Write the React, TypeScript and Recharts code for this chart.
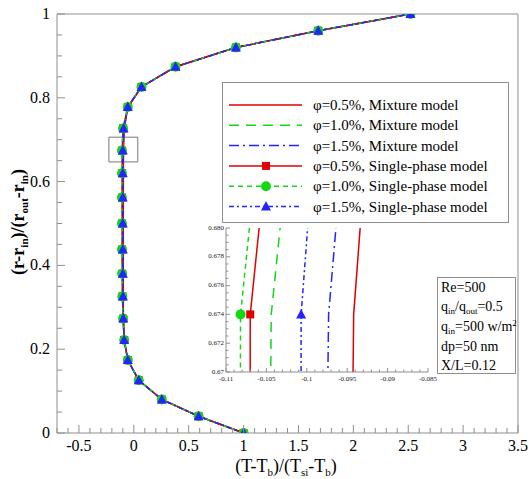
import { LineChart, Line, XAxis, YAxis, ReferenceLine, ReferenceArea } from 'recharts'

// dimensionless radial position (r-rin)/(rout-rin), shared by every series
const radialPos = [0, 0.04, 0.08, 0.126, 0.174, 0.222, 0.273, 0.326, 0.38, 0.438, 0.5, 0.562, 0.62, 0.674, 0.727, 0.778, 0.826, 0.874, 0.92, 0.96, 1]

// dimensionless temperature (T-Tb)/(Tsi-Tb)
const mix05 = [1.0, 0.59, 0.255, 0.045, -0.055, -0.088, -0.095, -0.096, -0.096, -0.096, -0.096, -0.0955, -0.0952, -0.0942, -0.0871, -0.055, 0.07, 0.38, 0.93, 1.68, 2.52]
const mix10 = [1.0, 0.59, 0.255, 0.045, -0.055, -0.088, -0.097, -0.103, -0.104, -0.105, -0.105, -0.1054, -0.1052, -0.1044, -0.0947, -0.055, 0.07, 0.38, 0.93, 1.68, 2.52]
const mix15 = [1.0, 0.59, 0.255, 0.045, -0.055, -0.088, -0.096, -0.098, -0.098, -0.099, -0.099, -0.0988, -0.0985, -0.0973, -0.0893, -0.055, 0.07, 0.38, 0.93, 1.68, 2.52]
const sp05 = [1.0, 0.59, 0.255, 0.045, -0.055, -0.088, -0.097, -0.104, -0.106, -0.107, -0.107, -0.1072, -0.1071, -0.107, -0.0973, -0.055, 0.07, 0.38, 0.93, 1.68, 2.52]
const sp10 = [1.0, 0.59, 0.255, 0.045, -0.055, -0.088, -0.098, -0.105, -0.107, -0.108, -0.1085, -0.1085, -0.1084, -0.1082, -0.0985, -0.055, 0.07, 0.38, 0.93, 1.68, 2.52]
const sp15 = [1.0, 0.59, 0.255, 0.045, -0.055, -0.088, -0.096, -0.099, -0.1, -0.1005, -0.1008, -0.1008, -0.1008, -0.1007, -0.0936, -0.055, 0.07, 0.38, 0.93, 1.68, 2.52]

const xMajor = [-0.5, 0, 0.5, 1, 1.5, 2, 2.5, 3, 3.5]
const xMajorLabels = ['-0.5', '0', '0.5', '1', '1.5', '2', '2.5', '3', '3.5']
const yMajor = [0, 0.2, 0.4, 0.6, 0.8, 1]
const yMajorLabels = ['0', '0.2', '0.4', '0.6', '0.8', '1']

const insetXMajor = [-0.11, -0.105, -0.1, -0.095, -0.09, -0.085]
const insetXLabels = ['-0.11', '-0.105', '-0.1', '-0.095', '-0.09', '-0.085']
const insetYMajor = [0.67, 0.672, 0.674, 0.676, 0.678, 0.68]
const insetYLabels = ['0.67', '0.672', '0.674', '0.676', '0.678', '0.680']

const legendLabels = [
  'φ=0.5%, Mixture model',
  'φ=1.0%, Mixture model',
  'φ=1.5%, Mixture model',
  'φ=0.5%, Single-phase model',
  'φ=1.0%, Single-phase model',
  'φ=1.5%, Single-phase model',
]

const RED = '#e00000'
const GREEN = '#14d814'
const BLUE = '#2424ff'
const AXIS = '#8f8f8f'
const SERIF = '"Liberation Serif", "Times New Roman", serif'

const pts = (xs: number[]) => xs.map((x, i) => ({ x, y: radialPos[i] }))

const steps = (a: number, b: number, s: number) => {
  const out: number[] = []
  const n = Math.round((b - a) / s)
  for (let i = 0; i <= n; i++) out.push(+(a + i * s).toFixed(6))
  return out
}

const labelFor = (v: number, majors: number[], labels: string[]) => {
  const i = majors.findIndex((m) => Math.abs(m - v) < 1e-7)
  return i >= 0 ? labels[i] : null
}

const square = (color: string) => (p: any) => (
  <rect key={`s${p.index}`} x={p.cx - 4} y={p.cy - 4} width={8} height={8} fill={color} />
)
const circle = (color: string) => (p: any) => (
  <circle key={`c${p.index}`} cx={p.cx} cy={p.cy} r={5} fill={color} />
)
const triangle = (color: string) => (p: any) => (
  <polygon
    key={`t${p.index}`}
    points={`${p.cx},${p.cy - 5.5} ${p.cx - 5},${p.cy + 4} ${p.cx + 5},${p.cy + 4}`}
    fill={color}
  />
)

const series = [
  { xs: mix05, color: RED, dash: undefined, dot: false as any },
  { xs: mix10, color: GREEN, dash: '10 7', dot: false as any },
  { xs: mix15, color: BLUE, dash: '10 4 2 4', dot: false as any },
  { xs: sp05, color: RED, dash: undefined, dot: square(RED) },
  { xs: sp10, color: GREEN, dash: '5 4', dot: circle(GREEN) },
  { xs: sp15, color: BLUE, dash: '5 3 2 3', dot: triangle(BLUE) },
]

function MainXTick({ x, y, payload }: any) {
  const lab = labelFor(payload.value, xMajor, xMajorLabels)
  return (
    <g>
      <line x1={x} x2={x} y1={y} y2={y - (lab ? 8 : 5)} stroke={AXIS} />
      {lab && (
        <text x={x} y={y + 18} textAnchor="middle" fontSize={16} fontFamily={SERIF} fill="#000">
          {lab}
        </text>
      )}
    </g>
  )
}

function MainYTick({ x, y, payload }: any) {
  const lab = labelFor(payload.value, yMajor, yMajorLabels)
  return (
    <g>
      <line x1={x} x2={x + (lab ? 8 : 5)} y1={y} y2={y} stroke={AXIS} />
      {lab && (
        <text x={x - 7} y={y + 5} textAnchor="end" fontSize={16} fontFamily={SERIF} fill="#000">
          {lab}
        </text>
      )}
    </g>
  )
}

function InsetXTick({ x, y, payload }: any) {
  const lab = labelFor(payload.value, insetXMajor, insetXLabels)
  return (
    <g>
      <line x1={x} x2={x} y1={y} y2={y - (lab ? 4 : 2.5)} stroke={AXIS} />
      {lab && (
        <text x={x} y={y + 9} textAnchor="middle" fontSize={7} fontFamily={SERIF} fill="#222">
          {lab}
        </text>
      )}
    </g>
  )
}

function InsetYTick({ x, y, payload }: any) {
  const lab = labelFor(payload.value, insetYMajor, insetYLabels)
  return (
    <g>
      <line x1={x} x2={x + (lab ? 4 : 2.5)} y1={y} y2={y} stroke={AXIS} />
      {lab && (
        <text x={x - 2} y={y + 1.5} textAnchor="end" fontSize={7} fontFamily={SERIF} fill="#222">
          {lab}
        </text>
      )}
    </g>
  )
}

function Lines({ width }: { width: number }) {
  return (
    <>
      {series.map((s, i) => (
        <Line
          key={i}
          data={pts(s.xs)}
          dataKey="y"
          type="linear"
          stroke={s.color}
          strokeWidth={width}
          strokeDasharray={s.dash}
          dot={s.dot}
          activeDot={false}
          isAnimationActive={false}
        />
      ))}
    </>
  )
}

function LegendSample({ i, y }: { i: number; y: number }) {
  const s = series[i]
  const x1 = 229
  const x2 = 302
  const cx = 266
  return (
    <g>
      <line x1={x1} x2={x2} y1={y} y2={y} stroke={s.color} strokeWidth={1.5} strokeDasharray={s.dash} />
      {i === 3 && <rect x={cx - 4} y={y - 4} width={8} height={8} fill={RED} />}
      {i === 4 && <circle cx={cx} cy={y} r={5} fill={GREEN} />}
      {i === 5 && <polygon points={`${cx},${y - 5.5} ${cx - 5},${y + 4} ${cx + 5},${y + 4}`} fill={BLUE} />}
    </g>
  )
}

export default function App() {
  const legendRows = [105, 125.3, 145.6, 165.9, 186.2, 206.5]
  const sub = { fontSize: 11 }
  return (
    <div style={{ position: 'absolute', left: 0, top: 0, width: 529, height: 479, background: '#fff' }}>
      <LineChart width={529} height={479} margin={{ top: 14, right: 11, bottom: 0, left: 0 }}>
        <XAxis
          type="number"
          dataKey="x"
          domain={[-0.7, 3.5]}
          ticks={steps(-0.7, 3.5, 0.1)}
          interval={0}
          tick={(p: any) => <MainXTick {...p} />}
          tickLine={false}
          tickSize={0}
          tickMargin={0}
          height={46}
          axisLine={{ stroke: AXIS }}
          allowDataOverflow
        />
        <YAxis
          type="number"
          dataKey="y"
          domain={[0, 1]}
          ticks={steps(0, 1, 0.05)}
          interval={0}
          tick={(p: any) => <MainYTick {...p} />}
          tickLine={false}
          tickSize={0}
          tickMargin={0}
          width={57}
          axisLine={{ stroke: AXIS }}
          allowDataOverflow
        />
        <ReferenceLine y={1} stroke={AXIS} />
        <ReferenceLine x={3.5} stroke={AXIS} />
        <ReferenceArea x1={-0.227} x2={0.036} y1={0.647} y2={0.706} fill="none" stroke="#777" strokeWidth={1} />
        {Lines({ width: 1.5 })}
      </LineChart>

      <div style={{ position: 'absolute', left: 196, top: 222 }}>
        <LineChart width={244} height={170} margin={{ top: 6, right: 12, bottom: 0, left: 0 }}>
          <XAxis
            type="number"
            dataKey="x"
            domain={[-0.11, -0.085]}
            ticks={steps(-0.11, -0.085, 0.001)}
            interval={0}
            tick={(p: any) => <InsetXTick {...p} />}
            tickLine={false}
            tickSize={0}
            tickMargin={0}
            height={20}
            axisLine={{ stroke: AXIS }}
            allowDataOverflow
          />
          <YAxis
            type="number"
            dataKey="y"
            domain={[0.67, 0.68]}
            ticks={steps(0.67, 0.68, 0.0005)}
            interval={0}
            tick={(p: any) => <InsetYTick {...p} />}
            tickLine={false}
            tickSize={0}
            tickMargin={0}
            width={30}
            axisLine={{ stroke: AXIS }}
            allowDataOverflow
          />
          {Lines({ width: 1.5 })}
        </LineChart>
      </div>

      <svg
        width={529}
        height={479}
        style={{ position: 'absolute', left: 0, top: 0, pointerEvents: 'none' }}
        fontFamily={SERIF}
      >
        <text transform="translate(24,222) rotate(-90)" textAnchor="middle" fontSize={18} fontWeight="bold" fill="#000">
          (r-r<tspan dy={4} {...sub}>in</tspan>
          <tspan dy={-4}>)/(r</tspan>
          <tspan dy={4} {...sub}>out</tspan>
          <tspan dy={-4}>-r</tspan>
          <tspan dy={4} {...sub}>in</tspan>
          <tspan dy={-4}>)</tspan>
        </text>
        <text x={286} y={472} textAnchor="middle" fontSize={18} fill="#000">
          (T-T<tspan dy={4} {...sub}>b</tspan>
          <tspan dy={-4}>)/(T</tspan>
          <tspan dy={4} {...sub}>si</tspan>
          <tspan dy={-4}>-T</tspan>
          <tspan dy={4} {...sub}>b</tspan>
          <tspan dy={-4}>)</tspan>
        </text>

        <rect x={222.5} y={82.5} width={286} height={140} fill="#fff" stroke={AXIS} />
        {legendLabels.map((t, i) => (
          <g key={t}>
            <LegendSample i={i} y={legendRows[i]} />
            <text x={313} y={legendRows[i] + 5} fontSize={15} fill="#000">
              {t}
            </text>
          </g>
        ))}

        <rect x={437.5} y={277.5} width={78} height={96} fill="#fff" stroke={AXIS} />
        <g fontSize={14} fill="#000">
          <text x={441} y={292}>Re=500</text>
          <text x={441} y={311}>
            q<tspan dy={3} fontSize={9}>in</tspan>
            <tspan dy={-3}>/q</tspan>
            <tspan dy={3} fontSize={9}>out</tspan>
            <tspan dy={-3}>=0.5</tspan>
          </text>
          <text x={441} y={331}>
            q<tspan dy={3} fontSize={9}>in</tspan>
            <tspan dy={-3}>=500 w/m</tspan>
            <tspan dy={-5} fontSize={9}>2</tspan>
          </text>
          <text x={441} y={351}>dp=50 nm</text>
          <text x={441} y={370}>X/L=0.12</text>
        </g>
      </svg>
    </div>
  )
}
